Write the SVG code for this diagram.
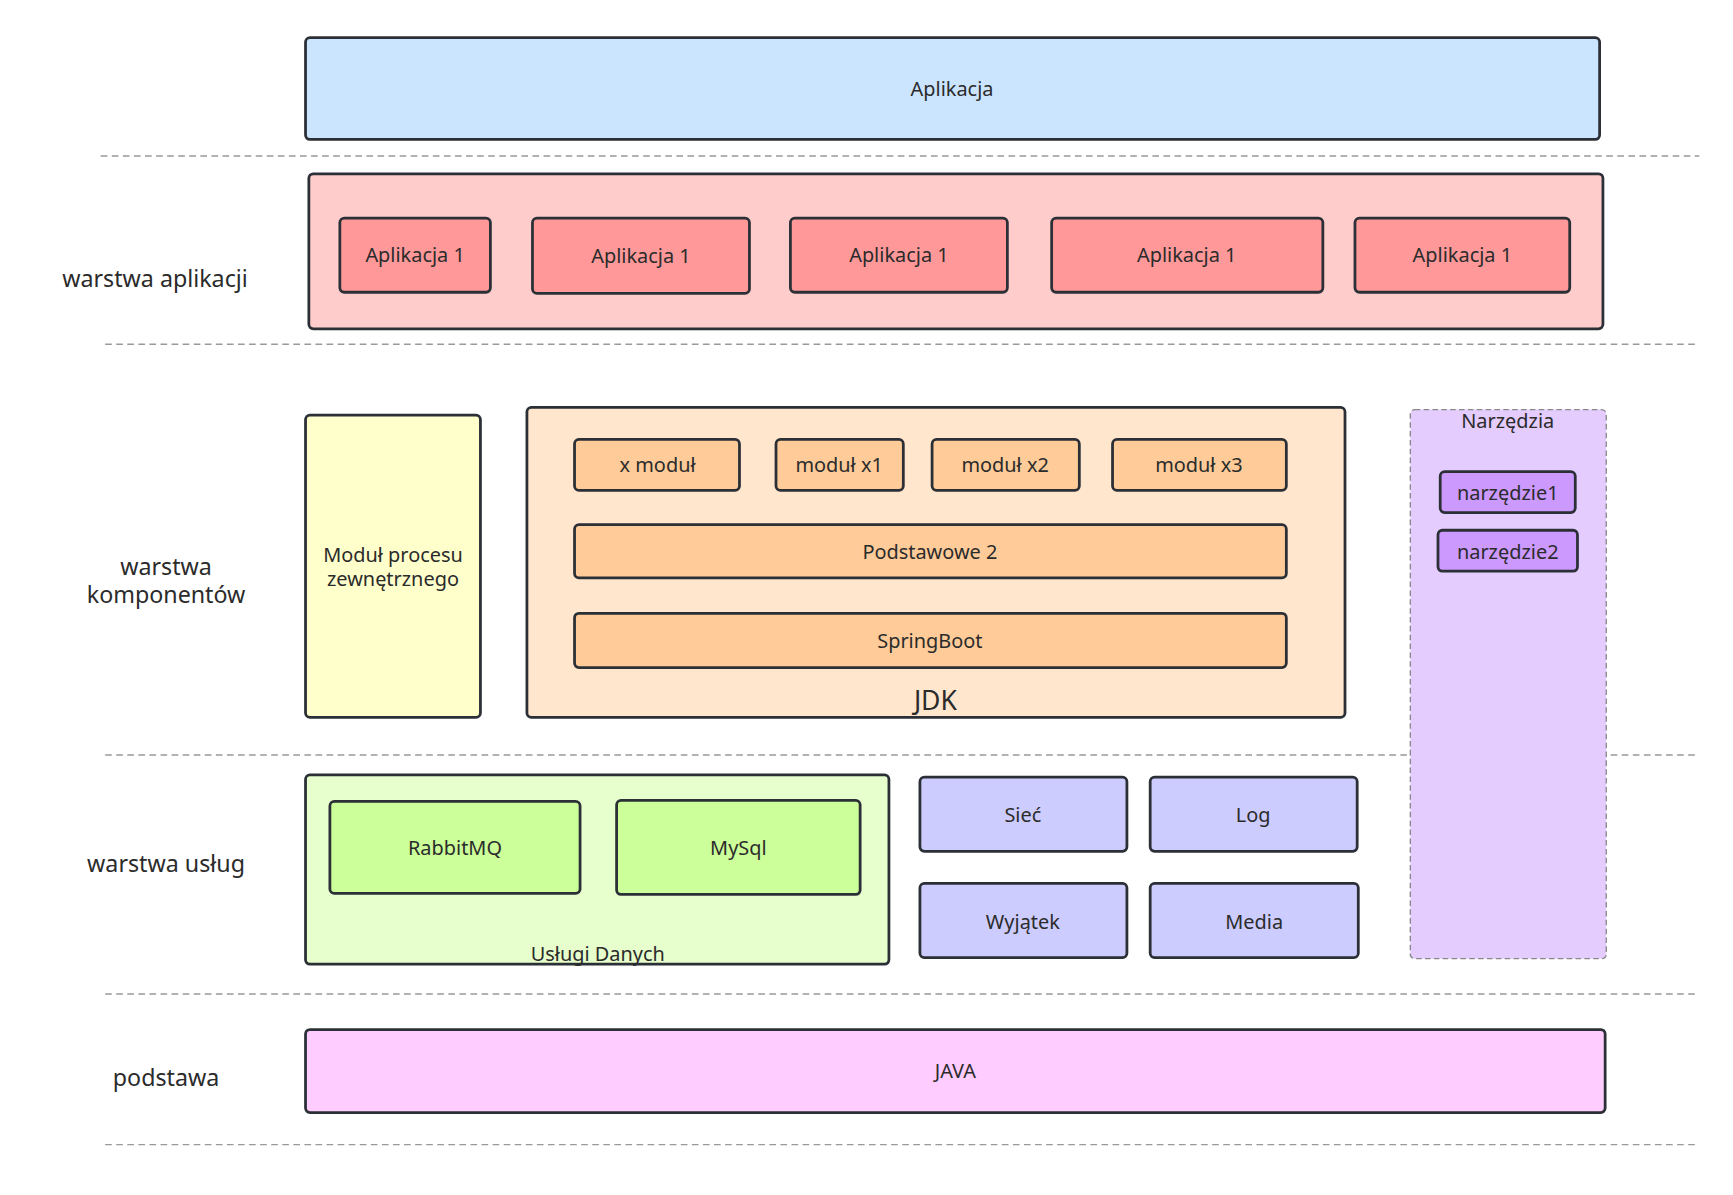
<svg xmlns="http://www.w3.org/2000/svg" width="1733" height="1195" viewBox="0 0 1733 1195">
<style>
.b{stroke:#2b2f36;stroke-width:2.5}
.d{stroke:#999;stroke-width:1.3;stroke-dasharray:6 4;fill:none}
text{font-family:"Noto Sans","Open Sans",sans-serif;font-size:18px;fill:#2b2b2b;text-anchor:middle;dominant-baseline:central}
.l{font-size:21px}
</style>
<rect width="1733" height="1195" fill="#fff"/>
<g transform="scale(1.107)">
<g id="separators">
<line class="d" x1="91" y1="141" x2="1535" y2="141"/>
<line class="d" x1="95" y1="311" x2="1535" y2="311"/>
<line class="d" x1="95" y1="682" x2="1535" y2="682"/>
<line class="d" x1="95" y1="898" x2="1535" y2="898"/>
<line class="d" x1="95" y1="1034" x2="1535" y2="1034"/>
</g>
<g id="labels">
<text class="l" x="140" y="251">warstwa aplikacji</text>
<text class="l" x="150" y="511">warstwa</text>
<text class="l" x="150" y="537">komponentów</text>
<text class="l" x="150" y="780">warstwa usług</text>
<text class="l" x="150" y="973">podstawa</text>
</g>
<g id="app"><rect class="b" x="276" y="34" width="1169" height="92" rx="4" fill="#cce5ff"/><text x="860" y="80">Aplikacja</text></g>
<g id="appLayer"><rect class="b" x="279" y="157" width="1169" height="140" rx="4" fill="#ffcccc"/></g>
<g id="a1"><rect class="b" x="307" y="197" width="136" height="67" rx="4" fill="#ff9999"/><text x="375" y="230">Aplikacja 1</text></g>
<g id="a2"><rect class="b" x="481" y="197" width="196" height="68" rx="4" fill="#ff9999"/><text x="579" y="231">Aplikacja 1</text></g>
<g id="a3"><rect class="b" x="714" y="197" width="196" height="67" rx="4" fill="#ff9999"/><text x="812" y="230">Aplikacja 1</text></g>
<g id="a4"><rect class="b" x="950" y="197" width="245" height="67" rx="4" fill="#ff9999"/><text x="1072" y="230">Aplikacja 1</text></g>
<g id="a5"><rect class="b" x="1224" y="197" width="194" height="67" rx="4" fill="#ff9999"/><text x="1321" y="230">Aplikacja 1</text></g>
<g id="external"><rect class="b" x="276" y="375" width="158" height="273" rx="4" fill="#ffffcc"/><text x="355" y="501">Moduł procesu</text><text x="355" y="523">zewnętrznego</text></g>
<g id="jdk"><rect class="b" x="476" y="368" width="739" height="280" rx="4" fill="#ffe6cc"/><text x="845" y="632" style="font-size:24px">JDK</text></g>
<g id="m0"><rect class="b" x="519" y="397" width="149" height="46" rx="4" fill="#ffcc99"/><text x="594" y="420">x moduł</text></g>
<g id="m1"><rect class="b" x="701" y="397" width="115" height="46" rx="4" fill="#ffcc99"/><text x="758" y="420">moduł x1</text></g>
<g id="m2"><rect class="b" x="842" y="397" width="133" height="46" rx="4" fill="#ffcc99"/><text x="908" y="420">moduł x2</text></g>
<g id="m3"><rect class="b" x="1005" y="397" width="157" height="46" rx="4" fill="#ffcc99"/><text x="1083" y="420">moduł x3</text></g>
<g id="podst"><rect class="b" x="519" y="474" width="643" height="48" rx="4" fill="#ffcc99"/><text x="840" y="498">Podstawowe 2</text></g>
<g id="spring"><rect class="b" x="519" y="554" width="643" height="49" rx="4" fill="#ffcc99"/><text x="840" y="579">SpringBoot</text></g>
<g id="tools"><rect x="1274" y="370" width="177" height="496" rx="4" fill="#e5ccff" stroke="#888" stroke-width="1.2" stroke-dasharray="5 3"/><text x="1362" y="380">Narzędzia</text></g>
<g id="t1"><rect class="b" x="1301" y="426" width="122" height="37" rx="4" fill="#cc99ff"/><text x="1362" y="445">narzędzie1</text></g>
<g id="t2"><rect class="b" x="1299" y="479" width="126" height="37" rx="4" fill="#cc99ff"/><text x="1362" y="498">narzędzie2</text></g>
<g id="data"><rect class="b" x="276" y="700" width="527" height="171" rx="4" fill="#e6ffcc"/><text x="540" y="861">Usługi Danych</text></g>
<g id="rabbit"><rect class="b" x="298" y="724" width="226" height="83" rx="4" fill="#ccff99"/><text x="411" y="766">RabbitMQ</text></g>
<g id="mysql"><rect class="b" x="557" y="723" width="220" height="85" rx="4" fill="#ccff99"/><text x="667" y="766">MySql</text></g>
<g id="siec"><rect class="b" x="831" y="702" width="187" height="67" rx="4" fill="#ccccff"/><text x="924" y="736">Sieć</text></g>
<g id="log"><rect class="b" x="1039" y="702" width="187" height="67" rx="4" fill="#ccccff"/><text x="1132" y="736">Log</text></g>
<g id="wyj"><rect class="b" x="831" y="798" width="187" height="67" rx="4" fill="#ccccff"/><text x="924" y="832">Wyjątek</text></g>
<g id="media"><rect class="b" x="1039" y="798" width="188" height="67" rx="4" fill="#ccccff"/><text x="1133" y="832">Media</text></g>
<g id="java"><rect class="b" x="276" y="930" width="1174" height="75" rx="4" fill="#ffccff"/><text x="863" y="967">JAVA</text></g>
<g id="connectors"/>
</g>
</svg>
